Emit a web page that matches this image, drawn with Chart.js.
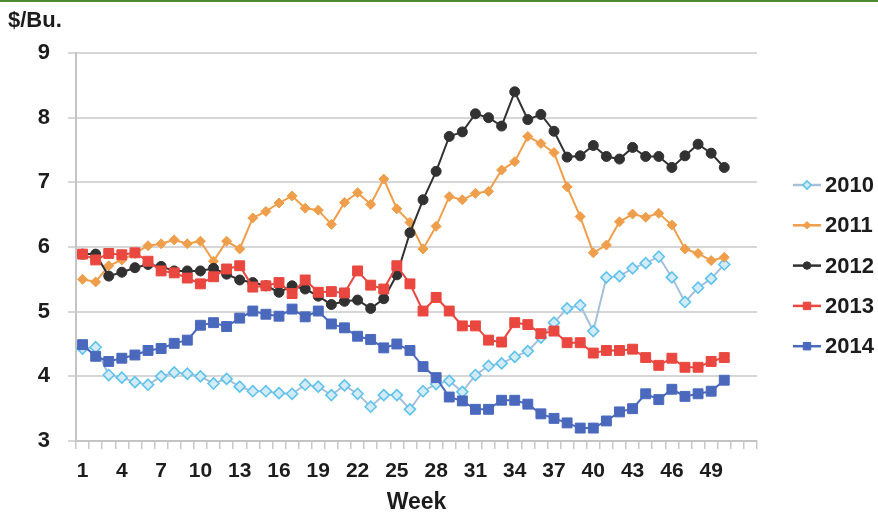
<!DOCTYPE html>
<html>
<head>
<meta charset="utf-8">
<title>Weekly prices, $/Bu.</title>
<script src="https://cdn.jsdelivr.net/npm/chart.js@4/dist/chart.umd.min.js"></script>
<style>
  html, body { margin: 0; padding: 0; background: #ffffff; }
  #wrap { width: 878px; height: 516px; position: relative; }
</style>
</head>
<body>
<div id="wrap"><canvas id="chart" width="878" height="516"></canvas></div>
<script>
// Week numbers on the category axis (52 weeks)
const weeks = [1, 2, 3, 4, 5, 6, 7, 8, 9, 10, 11, 12, 13, 14, 15, 16, 17, 18, 19, 20,
  21, 22, 23, 24, 25, 26, 27, 28, 29, 30, 31, 32, 33, 34, 35, 36, 37, 38, 39, 40,
  41, 42, 43, 44, 45, 46, 47, 48, 49, 50, 51, 52];

// Labelled weeks on the x axis
const weekTicks = [1, 4, 7, 10, 13, 16, 19, 22, 25, 28, 31, 34, 37, 40, 43, 46, 49];

// Y axis range ($/Bu.)
const priceTicks = [3, 4, 5, 6, 7, 8, 9];

// Weekly prices, $/Bu., weeks 1-50
const p2010 = [4.43, 4.45, 4.02, 3.98, 3.91, 3.87, 4.00, 4.06, 4.04, 4.00,
  3.89, 3.96, 3.84, 3.77, 3.77, 3.74, 3.73, 3.87, 3.84, 3.71,
  3.86, 3.73, 3.53, 3.71, 3.71, 3.49, 3.77, 3.88, 3.93, 3.76,
  4.02, 4.16, 4.20, 4.30, 4.39, 4.60, 4.83, 5.05, 5.10, 4.70,
  5.53, 5.55, 5.67, 5.75, 5.85, 5.53, 5.15, 5.37, 5.51, 5.73];

const p2011 = [5.50, 5.46, 5.71, 5.80, 5.90, 6.02, 6.05, 6.11, 6.05, 6.09,
  5.78, 6.09, 5.97, 6.45, 6.55, 6.68, 6.79, 6.60, 6.57, 6.35,
  6.69, 6.84, 6.66, 7.05, 6.59, 6.38, 5.97, 6.32, 6.78, 6.73,
  6.83, 6.86, 7.19, 7.32, 7.71, 7.60, 7.46, 6.93, 6.47, 5.91,
  6.03, 6.39, 6.51, 6.46, 6.52, 6.34, 5.97, 5.90, 5.79, 5.84];

const p2012 = [5.89, 5.89, 5.55, 5.61, 5.68, 5.73, 5.70, 5.63, 5.63, 5.63,
  5.67, 5.58, 5.49, 5.45, 5.40, 5.30, 5.40, 5.35, 5.24, 5.11,
  5.16, 5.18, 5.05, 5.20, 5.57, 6.22, 6.73, 7.17, 7.71, 7.78,
  8.06, 8.00, 7.87, 8.40, 7.97, 8.05, 7.79, 7.39, 7.41, 7.57,
  7.40, 7.36, 7.54, 7.40, 7.40, 7.23, 7.41, 7.59, 7.45, 7.23];

const p2013 = [5.89, 5.80, 5.90, 5.88, 5.91, 5.78, 5.63, 5.60, 5.52, 5.43,
  5.54, 5.66, 5.71, 5.38, 5.40, 5.45, 5.28, 5.49, 5.30, 5.31,
  5.29, 5.63, 5.41, 5.35, 5.71, 5.43, 5.01, 5.22, 5.01, 4.78,
  4.78, 4.56, 4.53, 4.83, 4.80, 4.66, 4.70, 4.52, 4.52, 4.36,
  4.40, 4.40, 4.42, 4.29, 4.17, 4.28, 4.14, 4.14, 4.23, 4.29];

const p2014 = [4.49, 4.31, 4.23, 4.28, 4.33, 4.40, 4.43, 4.51, 4.56, 4.79,
  4.83, 4.77, 4.90, 5.01, 4.96, 4.93, 5.04, 4.92, 5.01, 4.81,
  4.75, 4.62, 4.57, 4.44, 4.50, 4.40, 4.15, 3.98, 3.68, 3.62,
  3.49, 3.49, 3.63, 3.63, 3.57, 3.42, 3.35, 3.28, 3.20, 3.20,
  3.31, 3.45, 3.50, 3.73, 3.64, 3.80, 3.69, 3.73, 3.77, 3.94];

const years = ['2010', '2011', '2012', '2013', '2014'];

const FONT = "'Liberation Sans', Arial, sans-serif";
const TEXT = '#1c1c1c';
const GRID = '#d6d6d6';

function series(label, data, style) {
  return Object.assign({
    label: label,
    data: data,
    borderWidth: 2,
    tension: 0,
    fill: false,
    pointBorderWidth: 1,
    pointHoverRadius: 6
  }, style);
}

const datasets = [
  series(years[0], p2010, {
    borderColor: '#a8bfdc', pointStyle: 'rectRot', pointRadius: 5.5,
    pointBackgroundColor: '#d3ebf7', pointBorderColor: '#5ec3ec', pointBorderWidth: 1.6, order: 4
  }),
  series(years[1], p2011, {
    borderColor: '#ef9e4b', pointStyle: 'rectRot', pointRadius: 5,
    pointBackgroundColor: '#ef9e4b', pointBorderColor: '#ef9e4b', order: 3
  }),
  series(years[2], p2012, {
    borderColor: '#313131', pointStyle: 'circle', pointRadius: 5,
    pointBackgroundColor: '#313131', pointBorderColor: '#313131', order: 2
  }),
  series(years[3], p2013, {
    borderColor: '#e9473f', pointStyle: 'rect', pointRadius: 7,
    pointBackgroundColor: '#e9473f', pointBorderColor: '#e9473f', order: 1
  }),
  series(years[4], p2014, {
    borderColor: '#4a69bd', pointStyle: 'rect', pointRadius: 7,
    pointBackgroundColor: '#4a69bd', pointBorderColor: '#4a69bd', order: 0
  })
];

// White page with a thin green rule along the top edge
const pageBackground = {
  id: 'pageBackground',
  beforeDraw(chart) {
    const ctx = chart.ctx;
    ctx.save();
    ctx.fillStyle = '#ffffff';
    ctx.fillRect(0, 0, chart.width, chart.height);
    ctx.fillStyle = '#4b8a2e';
    ctx.fillRect(0, 0, chart.width, 2);
    ctx.restore();
  }
};

// Right-hand legend: a short line with the series marker, then the year
const lineLegend = {
  id: 'lineLegend',
  afterDraw(chart) {
    const ctx = chart.ctx;
    const x0 = chart.chartArea.right + 36;
    const lineLen = 28;
    const y0 = 185;
    const step = 40.3;
    ctx.save();
    chart.data.datasets.forEach((ds, i) => {
      const y = y0 + i * step;
      ctx.strokeStyle = ds.borderColor;
      ctx.lineWidth = 2.5;
      ctx.beginPath();
      ctx.moveTo(x0, y);
      ctx.lineTo(x0 + lineLen, y);
      ctx.stroke();
      ctx.fillStyle = ds.pointBackgroundColor;
      ctx.strokeStyle = ds.pointBorderColor;
      ctx.lineWidth = ds.pointBorderWidth;
      Chart.helpers.drawPoint(ctx, {
        pointStyle: ds.pointStyle,
        radius: ds.pointRadius * 0.75,
        rotation: 0,
        borderWidth: ds.pointBorderWidth
      }, x0 + lineLen / 2, y);
      ctx.fillStyle = TEXT;
      ctx.font = 'bold 22px ' + FONT;
      ctx.textAlign = 'left';
      ctx.textBaseline = 'middle';
      ctx.fillText(ds.label, x0 + lineLen + 4, y + 1);
    });
    ctx.restore();
  }
};

new Chart(document.getElementById('chart'), {
  type: 'line',
  data: { labels: weeks, datasets: datasets },
  plugins: [pageBackground, lineLegend],
  options: {
    responsive: false,
    animation: false,
    events: [],
    layout: { padding: { left: 8, right: 121, top: 0, bottom: 0 } },
    plugins: {
      legend: { display: false },
      tooltip: { enabled: false },
      title: {
        display: true,
        text: '$/Bu.',
        align: 'start',
        color: TEXT,
        font: { family: FONT, size: 22, weight: 'bold', lineHeight: 1.2 },
        padding: { top: 8, bottom: 18.6 }
      }
    },
    scales: {
      x: {
        type: 'category',
        offset: true,
        border: { display: true, color: '#c4c4c4', width: 2 },
        grid: {
          display: true,
          offset: true,
          drawOnChartArea: false,
          drawTicks: true,
          tickLength: 8,
          color: '#c8c8c8',
          lineWidth: 1.5
        },
        ticks: {
          autoSkip: false,
          maxRotation: 0,
          minRotation: 0,
          padding: 10,
          color: TEXT,
          font: { family: FONT, size: 21, weight: 'bold' },
          callback: function (value, index) {
            const w = weeks[index];
            return weekTicks.includes(w) ? String(w) : '';
          }
        },
        title: {
          display: true,
          text: 'Week',
          color: TEXT,
          font: { family: FONT, size: 23, weight: 'bold', lineHeight: 1.2 },
          padding: { top: 0, bottom: 0 }
        },
        afterFit(scale) { scale.height = 75; }
      },
      y: {
        min: priceTicks[0],
        max: priceTicks[priceTicks.length - 1],
        afterBuildTicks(scale) {
          scale.ticks = priceTicks.map(v => ({ value: v }));
        },
        border: { display: true, color: '#c4c4c4', width: 2 },
        grid: {
          color: GRID,
          lineWidth: 2,
          drawTicks: true,
          tickLength: 8
        },
        ticks: {
          padding: 18,
          color: TEXT,
          font: { family: FONT, size: 22, weight: 'bold' }
        },
        afterFit(scale) { scale.width = 68; }
      }
    }
  }
});
</script>
</body>
</html>
